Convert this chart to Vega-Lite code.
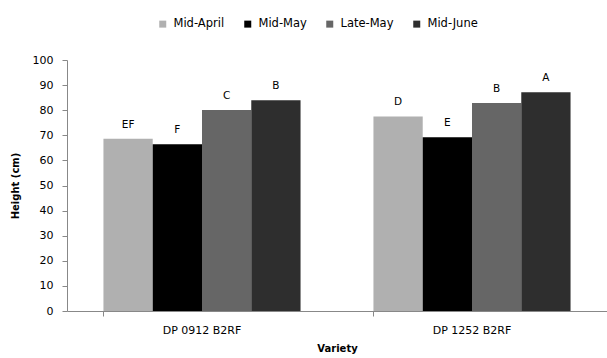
{
  "$schema": "https://vega.github.io/schema/vega-lite/v6.json",
  "width": 540,
  "height": 251,
  "autosize": {"type": "none"},
  "padding": {"left": 67, "top": 60, "right": 0, "bottom": 47},
  "background": "white",
  "config": {
    "font": "DejaVu Sans",
    "view": {"stroke": null},
    "axis": {"labelFont": "DejaVu Sans", "titleFont": "DejaVu Sans", "labelColor": "#000", "titleColor": "#000", "domainColor": "#888", "tickColor": "#888", "grid": false},
    "legend": {"labelFont": "DejaVu Sans"}
  },
  "data": {
    "values": [
      {"Variety": "DP 0912 B2RF", "Period": "Mid-April", "Height": 68.6, "Letter": "EF"},
      {"Variety": "DP 0912 B2RF", "Period": "Mid-May", "Height": 66.4, "Letter": "F"},
      {"Variety": "DP 0912 B2RF", "Period": "Late-May", "Height": 80.1, "Letter": "C"},
      {"Variety": "DP 0912 B2RF", "Period": "Mid-June", "Height": 84.0, "Letter": "B"},
      {"Variety": "DP 1252 B2RF", "Period": "Mid-April", "Height": 77.5, "Letter": "D"},
      {"Variety": "DP 1252 B2RF", "Period": "Mid-May", "Height": 69.2, "Letter": "E"},
      {"Variety": "DP 1252 B2RF", "Period": "Late-May", "Height": 82.9, "Letter": "B"},
      {"Variety": "DP 1252 B2RF", "Period": "Mid-June", "Height": 87.2, "Letter": "A"}
    ]
  },
  "encoding": {
    "x": {
      "field": "Variety", "type": "nominal",
      "scale": {"paddingInner": 0.27, "paddingOuter": 0.135},
      "axis": {"title": "Variety", "labelAngle": 0, "labelFontSize": 11, "titleFontSize": 10, "titleFontWeight": "bold", "tickSize": 5, "bandPosition": 0, "labelPadding": 8, "titlePadding": 8}
    },
    "xOffset": {"field": "Period", "type": "nominal", "sort": ["Mid-April", "Mid-May", "Late-May", "Mid-June"], "scale": {"paddingInner": 0, "paddingOuter": 0}},
    "y": {
      "field": "Height", "type": "quantitative",
      "scale": {"domain": [0, 100]},
      "axis": {"title": "Height (cm)", "values": [0,10,20,30,40,50,60,70,80,90,100], "labelFontSize": 11, "titleFontSize": 10, "titleFontWeight": "bold", "tickSize": 5, "labelPadding": 9, "titlePadding": 12}
    }
  },
  "layer": [
    {
      "mark": {"type": "bar"},
      "encoding": {
        "color": {
          "field": "Period", "type": "nominal",
          "sort": ["Mid-April", "Mid-May", "Late-May", "Mid-June"],
          "scale": {"domain": ["Mid-April", "Mid-May", "Late-May", "Mid-June"], "range": ["#b0b0b0", "#000000", "#666666", "#2e2e2e"]},
          "legend": {"title": null, "orient": "none", "legendX": 90, "legendY": -42, "direction": "horizontal", "symbolType": "square", "symbolSize": 49, "symbolStrokeWidth": 0, "labelFontSize": 11.5, "labelOffset": 5, "columnPadding": 17, "symbolOffset": 0}
        }
      }
    },
    {
      "mark": {"type": "text", "dy": -9, "fontSize": 10.5, "color": "#000", "baseline": "bottom"},
      "encoding": {"text": {"field": "Letter"}}
    }
  ]
}
